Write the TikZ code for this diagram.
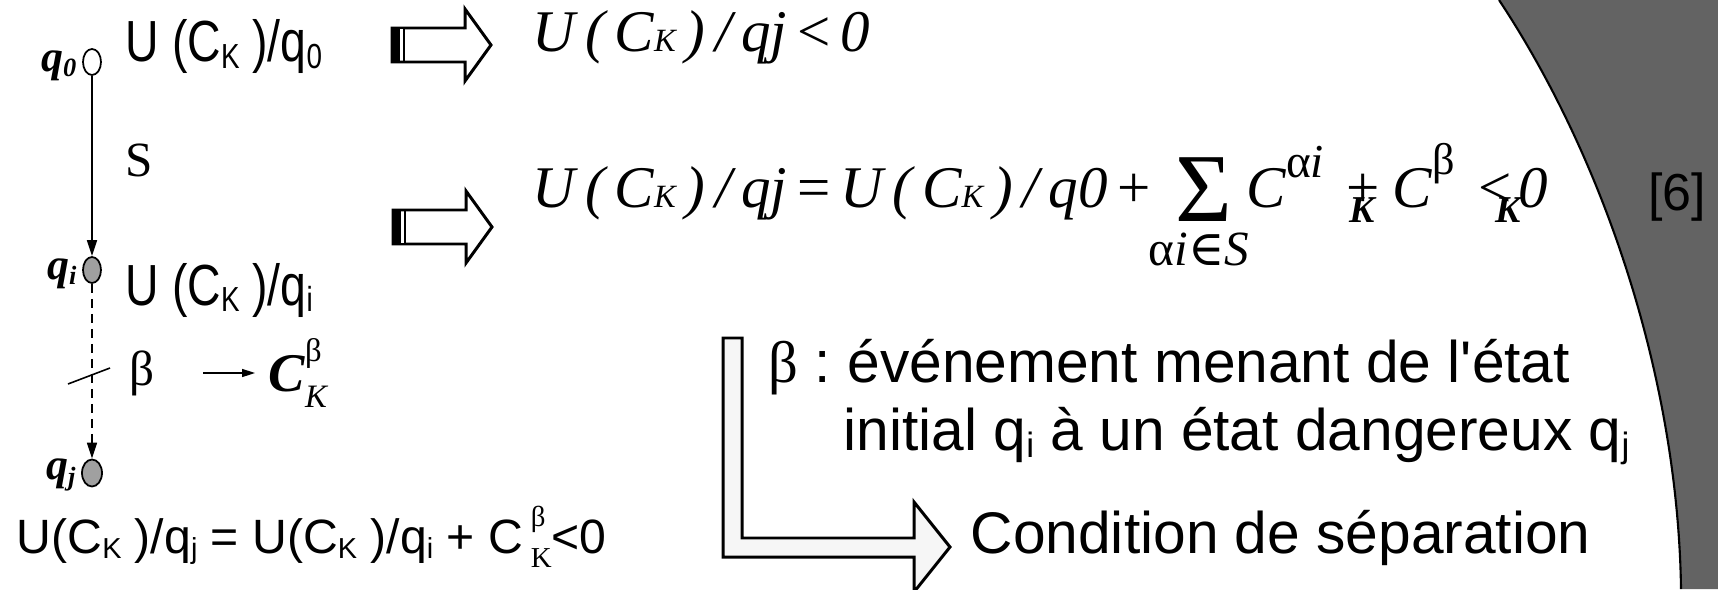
\documentclass[tikz,border=0pt]{standalone}
\usepackage{fontspec}
\setmainfont{Liberation Serif}
\setsansfont{Liberation Sans}
\newfontfamily\symfnt{DejaVu Serif}
\usepackage{graphicx}
\usetikzlibrary{arrows.meta,positioning,shapes.geometric}
\definecolor{panel}{RGB}{99,99,99}
\definecolor{stone}{RGB}{160,160,160}
\definecolor{paper}{RGB}{246,246,246}
% small indices
\newcommand{\dnidx}[1]{\raisebox{-0.12em}{\scalebox{0.6}{#1}}}
\newcommand{\smK}{\scalebox{0.55}{K}}
\newcommand{\stk}[2]{\makebox[0pt][l]{\raisebox{0.55em}{\scalebox{0.6}{#1}}}\raisebox{-0.3em}{\scalebox{0.6}{#2}}}
\newcommand{\narrow}[1]{\scalebox{0.8}[1]{#1}}
\tikzset{
  >={Triangle[length=1.6mm,width=1mm]},
  state/.style={ellipse,draw=black,line width=0.5pt,minimum width=1.8mm,
    minimum height=2.6mm,inner sep=0pt,fill=#1},
  state/.default=white,
  qlab/.style={font=\fontsize{12.5}{14}\selectfont\bfseries\itshape,inner sep=0pt},
  sans/.style={font=\fontsize{#1}{#1}\selectfont\sffamily\frenchspacing,inner sep=0pt,anchor=base west},
  sans/.default=16.5,
  ital/.style={font=\fontsize{#1}{#1}\selectfont\itshape,inner sep=0pt,anchor=base west},
  ital/.default=16.8,
  rmtxt/.style={font=\fontsize{14}{14}\selectfont,inner sep=0pt},
  boldk/.style={font=\fontsize{10.8}{11}\selectfont\bfseries\itshape,inner sep=0pt,anchor=base west},
  hollow/.style={draw=black,line width=0.85pt,line join=miter},
  link/.style={line width=0.45pt},
  % pictograms
  pics/stripe arrow/.style={code={
    \draw[hollow,fill=white] (0,0.17) -- (0.73,0.17) -- (0.73,0.36) -- (0.99,0) -- (0.73,-0.36) -- (0.73,-0.17) -- (0,-0.17) -- cycle;
    \fill (0,-0.17) rectangle (0.08,0.17);
    \draw[white,line width=0.6pt] (0.095,-0.155) -- (0.095,0.155);
    \draw[line width=0.8pt] (0.12,-0.17) -- (0.12,0.17);
  }},
}
\begin{document}
\begin{tikzpicture}
  \useasboundingbox (0,0) rectangle (17.18,-5.89);
  % grey band on the right
  \fill[panel] (14.99,0) .. controls (16.05,-1.60) and (16.78,-3.80) .. (16.81,-5.89) -- (17.18,-5.89) -- (17.18,0) -- cycle;
  \draw[line width=0.6pt] (14.99,0) .. controls (16.05,-1.60) and (16.78,-3.80) .. (16.81,-5.89);
  \node[sans=14.8,anchor=center] (ref) at (16.77,-1.97) {[6]};

  % states
  \node[state] (q0) at (0.92,-0.62) {};
  \node[state=stone] (qi) at (0.92,-2.70) {};
  \node[state=stone,minimum width=2mm,minimum height=2.7mm] (qj) at (0.92,-4.73) {};
  \node[qlab,left=0.05 of q0,yshift=-0.04cm] (lq0) {q\dnidx{0}};
  \node[qlab,left=0.05 of qi,yshift=-0.04cm] (lqi) {q\dnidx{i}};
  \node[qlab,left=0.05 of qj,yshift=-0.02cm] (lqj) {q\dnidx{j}};
  \draw[link,->] (q0) -- (qi);
  \draw[link,->,dash pattern=on 0.9mm off 0.6mm] (qi) -- (qj);
  \draw[link] (0.68,-3.84) -- (1.10,-3.68);

  \node[sans] (uq0) at (1.25,-0.62) {\narrow{U (C\dnidx{K} )/q\dnidx{0}}};
  \node[rmtxt] (lbs) at (1.39,-1.60) {S};
  \node[sans] (uqi) at (1.25,-3.05) {\narrow{U (C\dnidx{K} )/q\dnidx{i}}};
  \node[rmtxt] (lbb) at (1.42,-3.73) {β};
  \coordinate (ar0) at (2.03,-3.73);
  \node[font=\fontsize{15.5}{15.5}\selectfont,inner sep=0pt,anchor=west] (cbk) at (2.68,-3.73) {{\bfseries\itshape C}\stk{β}{\itshape K}};
  \draw[link,->,>={Triangle[length=1.3mm,width=0.8mm]},shorten >=0.13cm] (ar0) -- (cbk);
  \node[sans=13.7] (uqj) at (0.16,-5.53) {U(C\dnidx{K} )/q\dnidx{j} = U(C\dnidx{K} )/q\dnidx{i} + C\,\stk{\rmfamily β}{\rmfamily K}<0};

  % implications
  \pic at (3.92,-0.45) {stripe arrow};
  \pic at (3.93,-2.27) {stripe arrow};
  \node[ital] (eqa) at (5.32,-0.52) {U\,(\,C\smK\,)\,/\,qj\,{\upshape <}\,0};
  \node[ital] (eqb) at (5.32,-2.07) {U\,(\,C\smK\,)\,/\,qj\,{\upshape =}\,U\,(\,C\smK\,)\,/\,q0\,{\upshape +}};
  \node[ital,anchor=base] (sig) at (12.04,-2.21) {\upshape\scalebox{1.65}{Σ}};
  \node[ital=14,anchor=base] (sigidx) at (11.99,-2.65) {{\upshape α}i{\symfnt ∈}S};
  \node[ital] (cai) at (12.46,-2.07) {C\raisebox{0.5em}{\scalebox{0.8}{{\upshape α}i}}};
  \node[ital] (pls) at (13.46,-2.07) {\upshape +};
  \node[boldk] (ka) at (13.49,-2.22) {K};
  \node[ital] (cb) at (13.92,-2.07) {C\raisebox{0.55em}{\scalebox{0.75}{\upshape β}}};
  \node[ital] (lss) at (14.78,-2.07) {\upshape <};
  \node[boldk] (kb) at (14.95,-2.22) {K};
  \node[ital] (zr) at (15.18,-2.07) {0};

  % bent arrow and text
  \draw[hollow,fill=paper] (7.23,-3.38) -- (7.42,-3.38) -- (7.42,-5.38) -- (9.14,-5.38) -- (9.14,-5.02)
    -- (9.50,-5.47) -- (9.14,-5.92) -- (9.14,-5.57) -- (7.23,-5.57) -- cycle;
  \node[sans=16.7] (tx1) at (7.68,-3.82) {{\rmfamily β} : événement menant de l\textquotesingle état};
  \node[sans=16.7] (tx2) at (8.43,-4.50) {initial q\dnidx{i} à un état dangereux q\dnidx{j}};
  \node[sans=16.7] (tx3) at (9.70,-5.53) {Condition de séparation};
\end{tikzpicture}
\end{document}
